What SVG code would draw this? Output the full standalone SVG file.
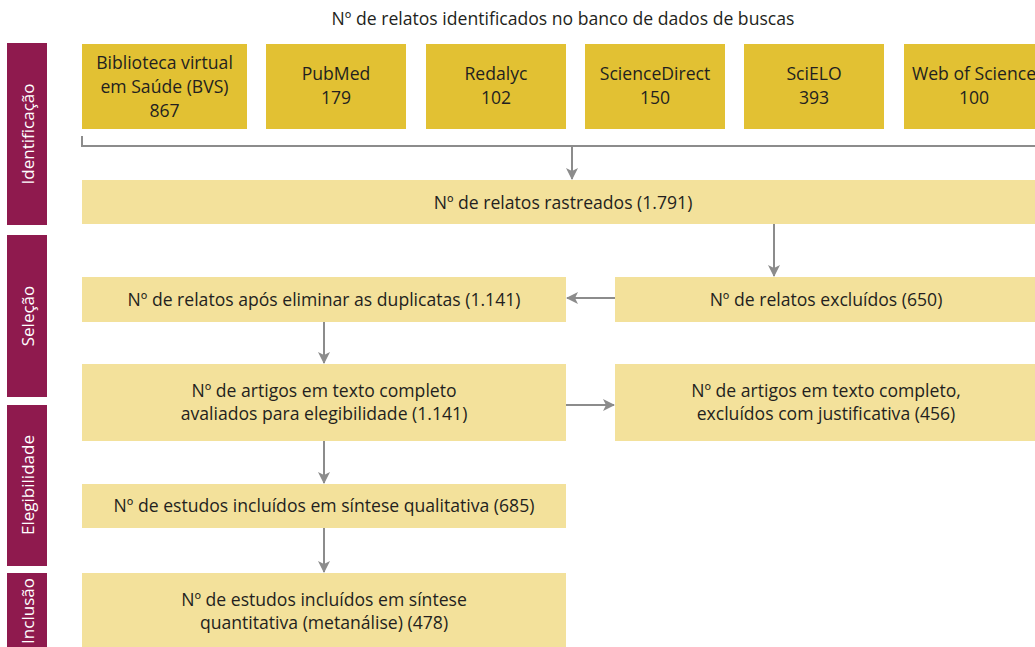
<svg xmlns="http://www.w3.org/2000/svg" width="1035" height="647" viewBox="0 0 1035 647">
<defs>
<style>
.side{fill:#8f1a4e}
.side-t{fill:#ffffff;font-family:"Open Sans","Noto Sans",sans-serif;font-size:17px;text-anchor:middle;dominant-baseline:central}
.db{fill:#e2c133}
.box{fill:#f3e19b}
.t{fill:#231f20;font-family:"Open Sans","Noto Sans",sans-serif;font-size:17.6px;text-anchor:middle}
.ln{stroke:#8c8c8c;stroke-width:2;fill:none}
</style>
<marker id="ah" viewBox="0 0 12 12" refX="11" refY="6" markerWidth="12" markerHeight="12" markerUnits="userSpaceOnUse" orient="auto">
<path d="M0,0 L12,6 L0,12 L3,6 Z" fill="#8c8c8c"/>
</marker>
</defs>
<rect width="1035" height="647" fill="#ffffff"/>
<text class="t" x="563" y="25">Nº de relatos identificados no banco de dados de buscas</text>
<g id="phase-identificacao"><rect class="side" x="7" y="43" width="40" height="182"/><text class="side-t" transform="translate(27,134) rotate(-90)">Identificação</text></g>
<g id="phase-selecao"><rect class="side" x="7" y="235" width="40" height="162"/><text class="side-t" transform="translate(27,316) rotate(-90)">Seleção</text></g>
<g id="phase-elegibilidade"><rect class="side" x="7" y="405" width="40" height="161"/><text class="side-t" transform="translate(27,485) rotate(-90)">Elegibilidade</text></g>
<g id="phase-inclusao"><rect class="side" x="7" y="573" width="40" height="80"/><text class="side-t" transform="translate(27,611) rotate(-90)">Inclusão</text></g>
<g id="db-bvs"><rect class="db" x="82" y="44" width="165" height="85"/><text class="t" x="164.5" y="69">Biblioteca virtual</text><text class="t" x="164.5" y="93">em Saúde (BVS)</text><text class="t" x="164.5" y="117">867</text></g>
<g id="db-pubmed"><rect class="db" x="266" y="44" width="140" height="85"/><text class="t" x="336" y="80">PubMed</text><text class="t" x="336" y="104">179</text></g>
<g id="db-redalyc"><rect class="db" x="426" y="44" width="140" height="85"/><text class="t" x="496" y="80">Redalyc</text><text class="t" x="496" y="104">102</text></g>
<g id="db-sciencedirect"><rect class="db" x="585" y="44" width="140" height="85"/><text class="t" x="655" y="80">ScienceDirect</text><text class="t" x="655" y="104">150</text></g>
<g id="db-scielo"><rect class="db" x="744" y="44" width="140" height="85"/><text class="t" x="814" y="80">SciELO</text><text class="t" x="814" y="104">393</text></g>
<g id="db-wos"><rect class="db" x="904" y="44" width="140" height="85"/><text class="t" x="974" y="80">Web of Science</text><text class="t" x="974" y="104">100</text></g>
<g id="rastreados"><rect class="box" x="82" y="180" width="962" height="44"/><text class="t" x="563" y="209">Nº de relatos rastreados (1.791)</text></g>
<g id="apos-duplicatas"><rect class="box" x="82" y="277" width="484" height="45"/><text class="t" x="324" y="306">Nº de relatos após eliminar as duplicatas (1.141)</text></g>
<g id="excluidos"><rect class="box" x="615" y="277" width="429" height="45"/><text class="t" x="826" y="306">Nº de relatos excluídos (650)</text></g>
<g id="avaliados"><rect class="box" x="82" y="364" width="484" height="77"/><text class="t" x="324" y="397">Nº de artigos em texto completo</text><text class="t" x="324" y="420">avaliados para elegibilidade (1.141)</text></g>
<g id="excluidos-justificativa"><rect class="box" x="615" y="364" width="429" height="77"/><text class="t" x="826" y="397">Nº de artigos em texto completo,</text><text class="t" x="826" y="420">excluídos com justificativa (456)</text></g>
<g id="qualitativa"><rect class="box" x="82" y="484" width="484" height="44"/><text class="t" x="324" y="512">Nº de estudos incluídos em síntese qualitativa (685)</text></g>
<g id="quantitativa"><rect class="box" x="82" y="573" width="484" height="80"/><text class="t" x="324" y="606">Nº de estudos incluídos em síntese</text><text class="t" x="324" y="629">quantitativa (metanálise) (478)</text></g>
<g id="connectors">
<path class="ln" d="M82,136 V146 H1035"/>
<path class="ln" d="M572,146 V179" marker-end="url(#ah)"/>
<path class="ln" d="M774,224 V276" marker-end="url(#ah)"/>
<path class="ln" d="M615,298 H567" marker-end="url(#ah)"/>
<path class="ln" d="M324,322 V363" marker-end="url(#ah)"/>
<path class="ln" d="M566,405 H614" marker-end="url(#ah)"/>
<path class="ln" d="M324,441 V483" marker-end="url(#ah)"/>
<path class="ln" d="M324,528 V572" marker-end="url(#ah)"/>
</g>
</svg>
